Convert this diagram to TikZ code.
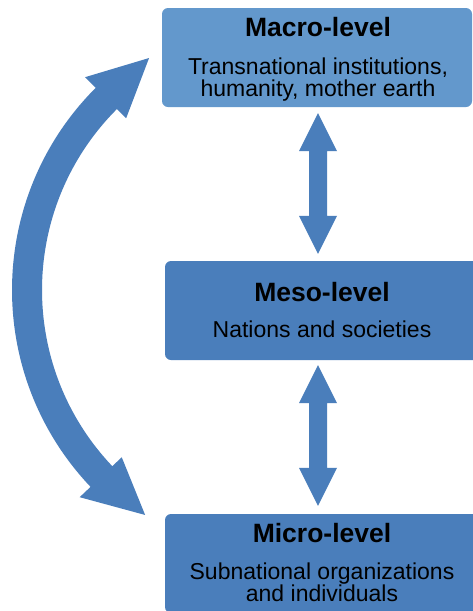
\documentclass[tikz,border=0pt]{standalone}
\usepackage{fontspec}
\setmainfont{Liberation Sans}
\usetikzlibrary{calc}
\definecolor{macroblue}{HTML}{6398CC}
\definecolor{levelblue}{HTML}{4A7EBB}
\tikzset{
  levelbox/.style={fill=levelblue, draw=none, rounded corners=6pt, minimum width=314pt, minimum height=99pt, inner sep=0pt},
  titletext/.style={anchor=base, inner sep=0pt, font=\fontsize{26.5}{28}\selectfont\bfseries},
  bodytext/.style={anchor=base, inner sep=0pt, align=center, font=\fontsize{23}{22.5}\selectfont},
  arrowfill/.style={fill=levelblue, draw=none}
}
\newcommand{\vdblarrow}[2]{%
  \fill[arrowfill] (#1) -- ++(19,38) -- ++(-10,0) -- ($(#2)+(9,-38)$) -- ++(10,0) -- (#2)
    -- ++(-19,-38) -- ++(10,0) -- ($(#1)+(-9,38)$) -- ++(-10,0) -- cycle;}
\begin{document}
\begin{tikzpicture}[x=1pt, y=-1pt]
\clip (0,0) rectangle (473,611);
\fill[white] (0,0) rectangle (473,611);
% boxes
\node[levelbox, fill=macroblue, minimum width=310pt] (macro) at (317,57.5) {};
\node[levelbox] (meso) at (322,310.5) {};
\node[levelbox] (micro) at (322,563.5) {};
% texts (multi-line texts are anchored at the baseline of their last line)
\node[titletext] (macroT) at ($(macro.north)+(1,29)$) {Macro-level};
\node[bodytext] (macroB) at ($(macro.north)+(1,89)$) {Transnational institutions,\\humanity, mother earth};
\node[titletext] (mesoT) at ($(meso.north)+(0,41)$) {Meso-level};
\node[bodytext] (mesoB) at ($(meso.north)+(0,77)$) {Nations and societies};
\node[titletext] (microT) at ($(micro.north)+(0,29)$) {Micro-level};
\node[bodytext] (microB) at ($(micro.north)+(0,88)$) {Subnational organizations\\and individuals};
% vertical double arrows
\coordinate (a1s) at ($(macro.south)+(1,6)$);
\coordinate (a1e) at ($(meso.north)+(-4,-7)$);
\coordinate (a2s) at ($(meso.south)+(-4,5)$);
\coordinate (a2e) at ($(micro.north)+(-4,-8)$);
\vdblarrow{a1s}{a1e}
\vdblarrow{a2s}{a2e}
% curved double arrow
\coordinate (C) at (298,290);
\fill[arrowfill] ($(C)+(136.5:286)$) arc[start angle=136.5, end angle=225, radius=286]
  -- ($(C)+(225:301)$) -- ($(C)+(237.3:275.7)$) -- ($(C)+(225:243)$) -- ($(C)+(225:256)$)
  arc[start angle=225, end angle=136.5, radius=256]
  -- ($(C)+(136.5:243)$) -- ($(C)+(124.2:272)$) -- ($(C)+(136.5:301)$) -- cycle;
\end{tikzpicture}
\end{document}
